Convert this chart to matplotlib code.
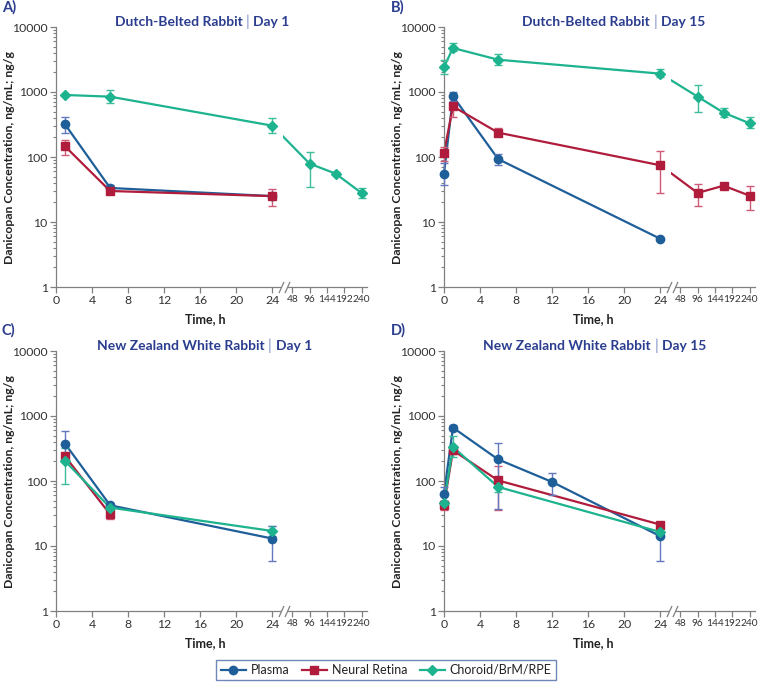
import numpy as np
import matplotlib
matplotlib.use("Agg")
import matplotlib.pyplot as plt
from matplotlib import ticker
from matplotlib.path import Path
from matplotlib.lines import Line2D

plt.rcParams['font.family'] = ['Lato', 'DejaVu Sans']

# ---- data (time in h, concentration in ng/mL or ng/g; lo/hi = error bar ends) ----
nan = np.nan

A_t_plasma = [1, 6, 24]
A_plasma = [318, 33.4, 25]
A_plasma_lo = [237, 30, 23]
A_plasma_hi = [412, 37, 27]
A_t_retina = [1, 6, 24]
A_retina = [146, 30, 25]
A_retina_lo = [106, 28, 17.8]
A_retina_hi = [180, 32, 31.8]
A_t_choroid = [1, 6, 24, 96, 168, 240]
A_choroid = [900, 848, 303, 79, 55.5, 27.9]
A_choroid_lo = [nan, 670, 231, 35, 52, 23.1]
A_choroid_hi = [nan, 1087, 398, 119, 59, 33.3]

B_t_plasma = [0, 1, 6, 24]
B_plasma = [55.5, 858, 93, 5.5]
B_plasma_lo = [36.6, 720, 76, nan]
B_plasma_hi = [81, 1000, 110, nan]
B_t_retina = [0, 1, 6, 24, 96, 168, 240]
B_retina = [117, 600, 237, 74.5, 28, 36.2, 25.4]
B_retina_lo = [87, 408, 210, 28, 17.8, 34, 15.5]
B_retina_hi = [143, 800, 279, 122, 38.5, 38, 35.4]
B_t_choroid = [0, 1, 6, 24, 96, 168, 240]
B_choroid = [2426, 4750, 3140, 1915, 848, 481, 330]
B_choroid_lo = [1915, 4280, 2640, 1700, 487, 412, 282]
B_choroid_hi = [3140, 5670, 3890, 2287, 1267, 568, 412]

C_t_plasma = [1, 6, 24]
C_plasma = [375, 42.3, 13]
C_plasma_lo = [240, 38, 5.9]
C_plasma_hi = [581, 46, 20.3]
C_t_retina = [1, 6]
C_retina = [240, 30.7]
C_retina_lo = [215, 26]
C_retina_hi = [265, 35]
C_t_choroid = [1, 6, 24]
C_choroid = [203, 39, 17]
C_choroid_lo = [89, 37, 14.3]
C_choroid_hi = [326, 41, 20.3]

D_t_plasma = [0, 1, 6, 12, 24]
D_plasma = [64, 661, 215, 96.5, 14.1]
D_plasma_lo = [50, 600, 37.5, 61.7, 5.9]
D_plasma_hi = [81, 720, 389, 134, 22]
D_t_retina = [0, 1, 6, 24]
D_retina = [43.3, 296, 102, 21.3]
D_retina_lo = [36, 260, 36, 19.5]
D_retina_hi = [49, 330, 170, 23.5]
D_t_choroid = [0, 1, 6, 24]
D_choroid = [46.5, 333, 81, 16.4]
D_choroid_lo = [43, 234, 68, 15]
D_choroid_hi = [50, 487, 91, 18]

x_ticks = [0, 4, 8, 12, 16, 20, 24, 48, 96, 144, 192, 240]
y_ticks = [1, 10, 100, 1000, 10000]
series_names = ["Plasma", "Neural Retina", "Choroid/BrM/RPE"]

# ---- broken time axis: 0-24 h linear, then 48-240 h compressed ----
def fwd(t):
    t = np.asarray(t, dtype=float)
    return np.where(t <= 24, t,
                    np.where(t < 48, 24 + (t - 24) * 2.2 / 24, 26.2 + (t - 48) * 0.04))


def inv(u):
    u = np.asarray(u, dtype=float)
    return np.where(u <= 24, u,
                    np.where(u < 26.2, 24 + (u - 24) * 24 / 2.2, 48 + (u - 26.2) / 0.04))


blue, red, teal = "#1f5f99", "#b01c3c", "#1db38f"
err_cols = ["#6478bd", "#cf5a75", "#3dbd9b"]
styles = [(blue, "o", 6.0), (red, "s", 5.2), (teal, "D", 5.2)]
title_col = "#2b3d8f"
spine_col = "#808080"

fig = plt.figure(figsize=(7.6, 6.84), dpi=100)
W, H = 760, 684


def add_ax(left, top):
    return fig.add_axes([left / W, (H - top - 260) / H, 311 / W, 260 / H])


panels = [
    ("A)", "Dutch-Belted Rabbit", "Day 1", 0.617, add_ax(56, 27), (2, 7),
     [(A_t_plasma, A_plasma, A_plasma_lo, A_plasma_hi),
      (A_t_retina, A_retina, A_retina_lo, A_retina_hi),
      (A_t_choroid, A_choroid, A_choroid_lo, A_choroid_hi)]),
    ("B)", "Dutch-Belted Rabbit", "Day 15", 0.68, add_ax(444, 27), (391, 7),
     [(B_t_plasma, B_plasma, B_plasma_lo, B_plasma_hi),
      (B_t_retina, B_retina, B_retina_lo, B_retina_hi),
      (B_t_choroid, B_choroid, B_choroid_lo, B_choroid_hi)]),
    ("C)", "New Zealand White Rabbit", "Day 1", 0.688, add_ax(56, 351), (2, 330),
     [(C_t_plasma, C_plasma, C_plasma_lo, C_plasma_hi),
      (C_t_retina, C_retina, C_retina_lo, C_retina_hi),
      (C_t_choroid, C_choroid, C_choroid_lo, C_choroid_hi)]),
    ("D)", "New Zealand White Rabbit", "Day 15", 0.683, add_ax(444, 351), (391, 330),
     [(D_t_plasma, D_plasma, D_plasma_lo, D_plasma_hi),
      (D_t_retina, D_retina, D_retina_lo, D_retina_hi),
      (D_t_choroid, D_choroid, D_choroid_lo, D_choroid_hi)]),
]

for letter, name, day, sep, ax, (lx, ly), data in panels:
    ax.set_xscale("function", functions=(fwd, inv))
    ax.set_yscale("log")
    ax.set_xlim(0, 255)
    ax.set_ylim(1, 10000)

    # draw series in reverse so plasma sits on top
    for i in (2, 1, 0):
        t, v, lo, hi = data[i]
        col, mk, ms = styles[i]
        v = np.asarray(v, float)
        err = np.vstack([v - np.asarray(lo, float), np.asarray(hi, float) - v])
        ax.plot(t, v, color=col, lw=1.6, zorder=2 + i * 0.01, clip_on=False)
        ax.errorbar(t, v, yerr=err, fmt="none", ecolor=err_cols[i], elinewidth=1.0,
                    capsize=3.2, capthick=1.0, zorder=2.6, clip_on=False)
        ax.plot(t, v, ls="none", marker=mk, ms=ms, color=col, mec=col,
                zorder=3 + i * 0.01, clip_on=False)

    # gap in the lines at the axis break
    ax.axvspan(24.6, 37.0, color="white", zorder=2.2, lw=0)

    for s in ("top", "right"):
        ax.spines[s].set_visible(False)
    for s in ("left", "bottom"):
        ax.spines[s].set_color(spine_col)
        ax.spines[s].set_linewidth(0.9)

    ax.xaxis.set_major_locator(ticker.FixedLocator(x_ticks))
    ax.xaxis.set_minor_locator(ticker.NullLocator())
    ax.yaxis.set_major_locator(ticker.FixedLocator(y_ticks))
    ax.yaxis.set_major_formatter(ticker.FuncFormatter(lambda v, p: f"{v:g}"))
    ax.yaxis.set_minor_locator(ticker.LogLocator(base=10, subs=np.arange(2, 10)))
    ax.yaxis.set_minor_formatter(ticker.NullFormatter())
    ax.tick_params(axis="both", which="major", direction="out", length=4, width=0.9,
                   color=spine_col, labelsize=8.8, labelcolor="#333333", pad=2)
    ax.tick_params(axis="y", which="minor", direction="out", length=2.2, width=0.8,
                   color=spine_col)
    labels = ax.set_xticklabels([str(v) for v in x_ticks])
    for lab, v in zip(labels, x_ticks):
        if v > 24:
            lab.set_fontsize(7.3)

    # break marks on the x axis
    bt = inv([24.95, 25.65])
    xtr = ax.get_xaxis_transform()
    ax.plot(bt, [0, 0], transform=xtr, color="white", lw=2.5, zorder=3.5,
            clip_on=False, solid_capstyle="butt")
    ax.plot(bt, [0, 0], transform=xtr, ls="none",
            marker=Path([(-0.45, -1), (0.45, 1)]), ms=8, mfc="none",
            mec=spine_col, mew=0.9, zorder=4, clip_on=False)

    ax.set_xlabel("Time, h", fontsize=9, fontweight="bold", color="#222222")
    ax.xaxis.set_label_coords(0.48, -0.1)
    ax.set_ylabel("Danicopan Concentration, ng/mL; ng/g", fontsize=8.8,
                  fontweight="bold", color="#222222")
    ax.yaxis.set_label_coords(-0.133, 0.5)

    # title: name | day
    ty = 1.02
    ax.annotate(name, (sep, ty), xycoords="axes fraction", xytext=(-4, 0),
                textcoords="offset points", ha="right", va="center",
                fontsize=10, fontweight="bold", color=title_col)
    ax.annotate(day, (sep, ty), xycoords="axes fraction", xytext=(4, 0),
                textcoords="offset points", ha="left", va="center",
                fontsize=10, fontweight="bold", color=title_col)
    ax.annotate("|", (sep, ty), xycoords="axes fraction", ha="center",
                va="center", fontsize=11, color="#7f8fc4")

    fig.text(lx / W, 1 - ly / H, letter, ha="left", va="center", fontsize=10.5,
             fontweight="bold", color=title_col)

handles = [Line2D([], [], color=c, marker=m, ms=s, lw=1.6) for c, m, s in styles]
leg = fig.legend(handles, series_names, loc="center", bbox_to_anchor=(0.508, 0.0205),
                 ncol=3, fontsize=9, frameon=True, fancybox=False, handlelength=2.0,
                 columnspacing=1.0, handletextpad=0.4, borderpad=0.35)
leg.get_frame().set_edgecolor("#4a6aa5")
leg.get_frame().set_linewidth(1.0)
for txt in leg.get_texts():
    txt.set_color("#222222")

fig.savefig("out.png", dpi=100)
